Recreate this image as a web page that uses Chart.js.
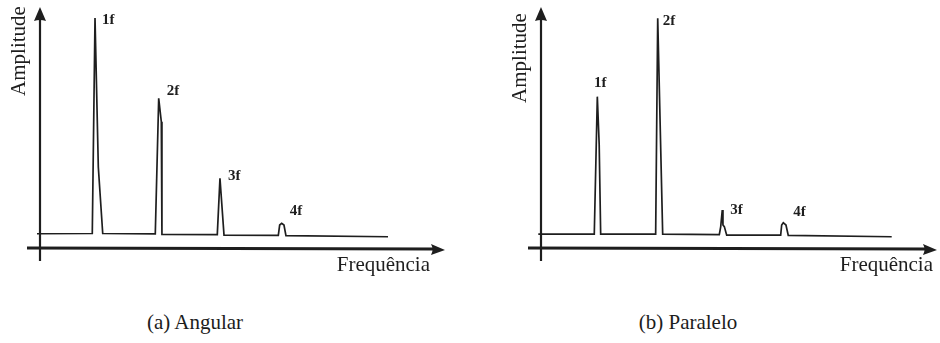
<!DOCTYPE html>
<html>
<head>
<meta charset="utf-8">
<script src="https://cdn.jsdelivr.net/npm/chart.js@4.4.1/dist/chart.umd.min.js"></script>
<style>
  html, body { margin: 0; padding: 0; background: #fff; }
  body { width: 940px; height: 343px; position: relative; overflow: hidden; }
  canvas { position: absolute; top: 0; }
  #chartA { left: 0; }
  #chartB { left: 501px; }
  .caption { position: absolute; top: 310px; font: 21px "Liberation Serif", serif; color: #1c1c1c; white-space: nowrap; transform: translateX(-50%); }
</style>
</head>
<body>
<canvas id="chartA" width="470" height="290"></canvas>
<canvas id="chartB" width="439" height="290"></canvas>
<div class="caption" style="left:195px">(a) Angular</div>
<div class="caption" style="left:688px">(b) Paralelo</div>

<script>
// spectrum traces, frequency in units of f, amplitude relative to the tallest peak
const harmonicLabels = ['1f', '2f', '3f', '4f']

const angularFreq = [0.056, 0.945, 0.989, 1.042, 1.113, 1.958, 2.013, 2.055, 2.065, 2.955, 2.998, 3.063, 3.936, 3.958, 3.990, 4.027, 4.059, 5.700]
const angularAmp  = [0.062, 0.063, 1.000, 0.352, 0.063, 0.061, 0.651, 0.549, 0.059, 0.058, 0.303, 0.056, 0.055, 0.100, 0.107, 0.100, 0.054, 0.049]
const angularPeakFreq = [0.989, 2.013, 2.998, 3.990]
const angularPeakAmp  = [1.000, 0.651, 0.303, 0.107]

const paraleloFreq = [0.061, 0.961, 1.010, 1.040, 1.064, 1.948, 1.981, 2.061, 2.971, 2.994, 3.019, 3.030, 3.052, 3.090, 3.958, 3.974, 4.000, 4.043, 4.080, 5.743]
const paraleloAmp  = [0.060, 0.060, 0.658, 0.450, 0.060, 0.060, 0.999, 0.060, 0.058, 0.093, 0.165, 0.100, 0.093, 0.056, 0.056, 0.100, 0.110, 0.100, 0.055, 0.049]
const paraleloPeakFreq = [1.010, 1.981, 3.019, 4.000]
const paraleloPeakAmp  = [0.658, 0.999, 0.165, 0.110]

// axis layout in data units
const AXIS_FREQ = 0.1045
const FREQ_MIN = -0.1045
const AMP_MIN = -0.0565
const AMP_MAX = 1.0478

const INK = '#1e1e1e'

const sketchAxes = {
    id: 'sketchAxes',
    beforeDatasetsDraw(chart) {
        const { ctx, chartArea: a, scales: { x, y } } = chart
        const x0 = x.getPixelForValue(AXIS_FREQ)
        const y0 = y.getPixelForValue(0)
        ctx.save()
        ctx.strokeStyle = INK
        ctx.fillStyle = INK
        ctx.lineCap = 'butt'

        // amplitude axis with arrow
        ctx.lineWidth = 2.2
        ctx.beginPath()
        ctx.moveTo(x0, a.bottom)
        ctx.lineTo(x0, a.top + 10)
        ctx.stroke()
        ctx.beginPath()
        ctx.moveTo(x0, a.top)
        ctx.lineTo(x0 - 6, a.top + 14)
        ctx.quadraticCurveTo(x0, a.top + 12, x0 + 6, a.top + 14)
        ctx.closePath()
        ctx.fill()

        // frequency axis with arrow
        ctx.lineWidth = 3
        ctx.beginPath()
        ctx.moveTo(a.left, y0)
        ctx.lineTo(a.right - 10, y0 + 1)
        ctx.stroke()
        ctx.beginPath()
        ctx.moveTo(a.right, y0 + 2)
        ctx.lineTo(a.right - 14, y0 - 4)
        ctx.quadraticCurveTo(a.right - 11, y0 + 1.5, a.right - 14, y0 + 7)
        ctx.closePath()
        ctx.fill()
        ctx.restore()
    },
    afterDatasetsDraw(chart, args, opts) {
        const { ctx, scales: { x, y } } = chart
        ctx.save()
        ctx.fillStyle = INK
        ctx.font = 'bold 15px "Liberation Serif", serif'
        ctx.textBaseline = 'middle'
        opts.peakFreq.forEach((f, i) => {
            ctx.textAlign = opts.align[i]
            ctx.fillText(harmonicLabels[i],
                x.getPixelForValue(f) + opts.dx[i],
                y.getPixelForValue(opts.peakAmp[i]) + opts.dy[i])
        })

        // axis titles
        ctx.font = '21px "Liberation Serif", serif'
        ctx.textBaseline = 'alphabetic'
        ctx.textAlign = 'right'
        ctx.fillText('Frequência', opts.freqTitleRight, 271)
        ctx.translate(25, opts.ampTitleCenter)
        ctx.rotate(-Math.PI / 2)
        ctx.textAlign = 'center'
        ctx.fillText('Amplitude', 0, 0)
        ctx.restore()
    }
}

function makeChart(id, freq, amp, freqMax, labelOpts) {
    const points = freq.map((f, i) => ({ x: f, y: amp[i] }))
    const canvas = document.getElementById(id)
    return new Chart(canvas, {
        type: 'line',
        data: {
            datasets: [{
                data: points,
                borderColor: INK,
                borderWidth: 1.7,
                pointRadius: 0,
                tension: 0,
                fill: false
            }]
        },
        options: {
            responsive: false,
            animation: false,
            events: [],
            layout: { padding: { left: 27, right: canvas.width - (27 + 418 * (freqMax - FREQ_MIN) / (6.616 - FREQ_MIN)), top: 7, bottom: 29 } },
            scales: {
                x: { type: 'linear', min: FREQ_MIN, max: freqMax, display: false },
                y: { type: 'linear', min: AMP_MIN, max: AMP_MAX, display: false }
            },
            plugins: {
                legend: { display: false },
                tooltip: { enabled: false },
                sketchAxes: labelOpts
            }
        },
        plugins: [sketchAxes]
    })
}

makeChart('chartA', angularFreq, angularAmp, 6.616, {
    peakFreq: angularPeakFreq,
    peakAmp: angularPeakAmp,
    dx: [7, 8, 8, 8],
    dy: [2, -7, -2, -12],
    align: ['left', 'left', 'left', 'left'],
    freqTitleRight: 430,
    ampTitleCenter: 51
})

makeChart('chartB', paraleloFreq, paraleloAmp, 6.471, {
    peakFreq: paraleloPeakFreq,
    peakAmp: paraleloPeakAmp,
    dx: [3, 5, 8, 10],
    dy: [-14, 3, 0, -11],
    align: ['center', 'left', 'left', 'left'],
    freqTitleRight: 432,
    ampTitleCenter: 58
})
</script>
</body>
</html>
